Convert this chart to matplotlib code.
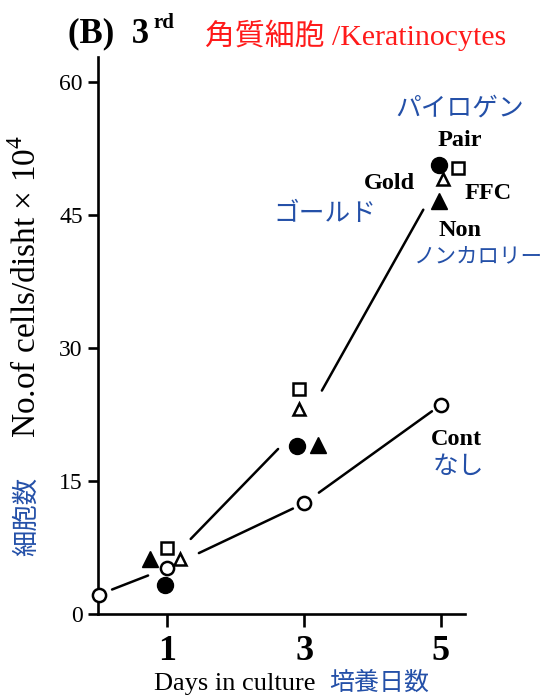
import matplotlib
matplotlib.use("Agg")
import matplotlib.pyplot as plt
import numpy as np

plt.rcParams['mathtext.fontset'] = 'custom'
plt.rcParams['mathtext.rm'] = 'Liberation Serif'
plt.rcParams['mathtext.bf'] = 'Liberation Serif:bold'

SERIF = 'Liberation Serif'
JP = 'Noto Sans CJK JP'
BLUE = '#2450a8'
RED = '#ff1a1a'

# values (cells/dish x 10^4), x = day (slightly jittered as drawn)
pair_days = [0.97, 2.90, 4.97]
pair_vals = [3.3, 19.0, 50.6]      # filled circle
gold_days = [1.19, 2.93, 5.03]
gold_vals = [6.2, 23.1, 49.1]      # open triangle
ffc_days = [0.99, 2.93, 5.25]
ffc_vals = [7.4, 25.4, 50.3]       # open square
non_days = [0.75, 3.20, 4.97]
non_vals = [6.2, 19.1, 46.6]       # filled triangle
cont_days = [0, 1, 3, 5]
cont_vals = [2.2, 5.2, 12.5, 23.6]  # open circle

line_days = [1, 3, 5]
xticks = [1, 3, 5]
yticks = [0, 15, 30, 45, 60]

fig = plt.figure(figsize=(5.45, 6.97), dpi=100)
ax = fig.add_axes([0.180, 0.119, 0.673, 0.799])
ax.set_xlim(-0.015, 5.35)
ax.set_ylim(0, 62.8)

for s in ['top', 'right']:
    ax.spines[s].set_visible(False)
for s in ['left', 'bottom']:
    ax.spines[s].set_linewidth(1.9)


def seg_line(xs, ys, gaps):
    # lines stop short of the markers, like the original
    for i in range(len(xs) - 1):
        ax.annotate('', xy=(xs[i + 1], ys[i + 1]), xytext=(xs[i], ys[i]),
                    arrowprops=dict(arrowstyle='-', lw=1.8, color='black',
                                    shrinkA=gaps[i][0], shrinkB=gaps[i][1]))


treated_mean = np.mean([pair_vals, gold_vals, ffc_vals, non_vals], axis=0)
seg_line(cont_days, cont_vals, [(10, 15), (25, 9), (13, 8)])
seg_line(line_days, treated_mean, [(24, 27), (26, 26)])

mk = dict(linestyle='none', clip_on=False, zorder=5)
ax.plot(cont_days, cont_vals, marker='o', ms=9.5, mfc='white', mec='black', mew=1.8, **mk)
ax.plot(ffc_days, ffc_vals, marker='s', ms=8.5, mfc='white', mec='black', mew=1.8, **mk)
ax.plot(gold_days, gold_vals, marker='^', ms=9, mfc='white', mec='black', mew=1.8, **mk)
ax.plot(non_days, non_vals, marker='^', ms=11.5, color='black', **mk)
ax.plot(pair_days, pair_vals, marker='o', ms=11.5, color='black', **mk)

ax.set_xticks(xticks)
ax.set_xticklabels([str(t) for t in xticks], fontfamily=SERIF, fontweight='bold', fontsize=26)
ax.set_yticks(yticks)
ax.set_yticklabels([str(t) for t in yticks], fontfamily=SERIF, fontsize=17)
ax.tick_params(axis='x', direction='out', length=9, width=1.9, pad=6)
ax.tick_params(axis='y', direction='out', length=7, width=1.9, pad=4)

# group labels
bold = dict(fontfamily=SERIF, fontweight='bold', fontsize=17.5, ha='center', va='center')
jp = dict(fontfamily=JP, fontsize=18.5, color=BLUE, ha='center', va='center')
ax.text(5.27, 57.0, 'パイロゲン', **jp, clip_on=False)
ax.text(5.28, 53.4, 'Pair', **bold, clip_on=False)
ax.text(4.24, 48.5, 'Gold', **bold, clip_on=False)
ax.text(5.69, 47.4, 'FFC', **bold, clip_on=False)
ax.text(5.28, 43.3, 'Non', **bold, clip_on=False)
ax.text(3.30, 45.1, 'ゴールド', **jp)
ax.text(5.23, 19.7, 'Cont', **bold)
ax.text(5.26, 16.6, 'なし', **jp)
fig.text(543 / 545, 1 - 257 / 697, 'ノンカロリー', fontfamily=JP, fontsize=15.5,
         color=BLUE, ha='right', va='center')

# axis titles
fig.text(27 / 545, 1 - 286 / 697, r'No.of cells/disht $\times$ 10$^{4}$', rotation=90,
         fontfamily=SERIF, fontsize=24, ha='center', va='center')
fig.text(26 / 545, 1 - 516 / 697, '細胞数', rotation=90, fontfamily=JP, fontsize=19,
         color=BLUE, ha='center', va='center')
fig.text(316 / 545, 1 - 684 / 697, 'Days in culture', fontfamily=SERIF, fontsize=19,
         ha='right', va='center')
fig.text(329 / 545, 1 - 683 / 697, '培養日数', fontfamily=JP, fontsize=18,
         color=BLUE, ha='left', va='center')

# panel title
t = fig.text(68 / 545, 1 - 34 / 697, '(B)  3', fontfamily=SERIF, fontweight='bold',
             fontsize=25, ha='left', va='center')
ax.annotate('rd', xy=(1, 1), xycoords=t, xytext=(3, 3), textcoords='offset points',
            fontfamily=SERIF, fontweight='bold', fontsize=15, ha='left', va='top',
            annotation_clip=False)
fig.text(205 / 545, 1 - 35 / 697, '角質細胞 /Keratinocytes', family=[SERIF, JP],
         fontsize=21.5, color=RED, ha='left', va='center')

fig.savefig('out.png', dpi=100, facecolor='white')
